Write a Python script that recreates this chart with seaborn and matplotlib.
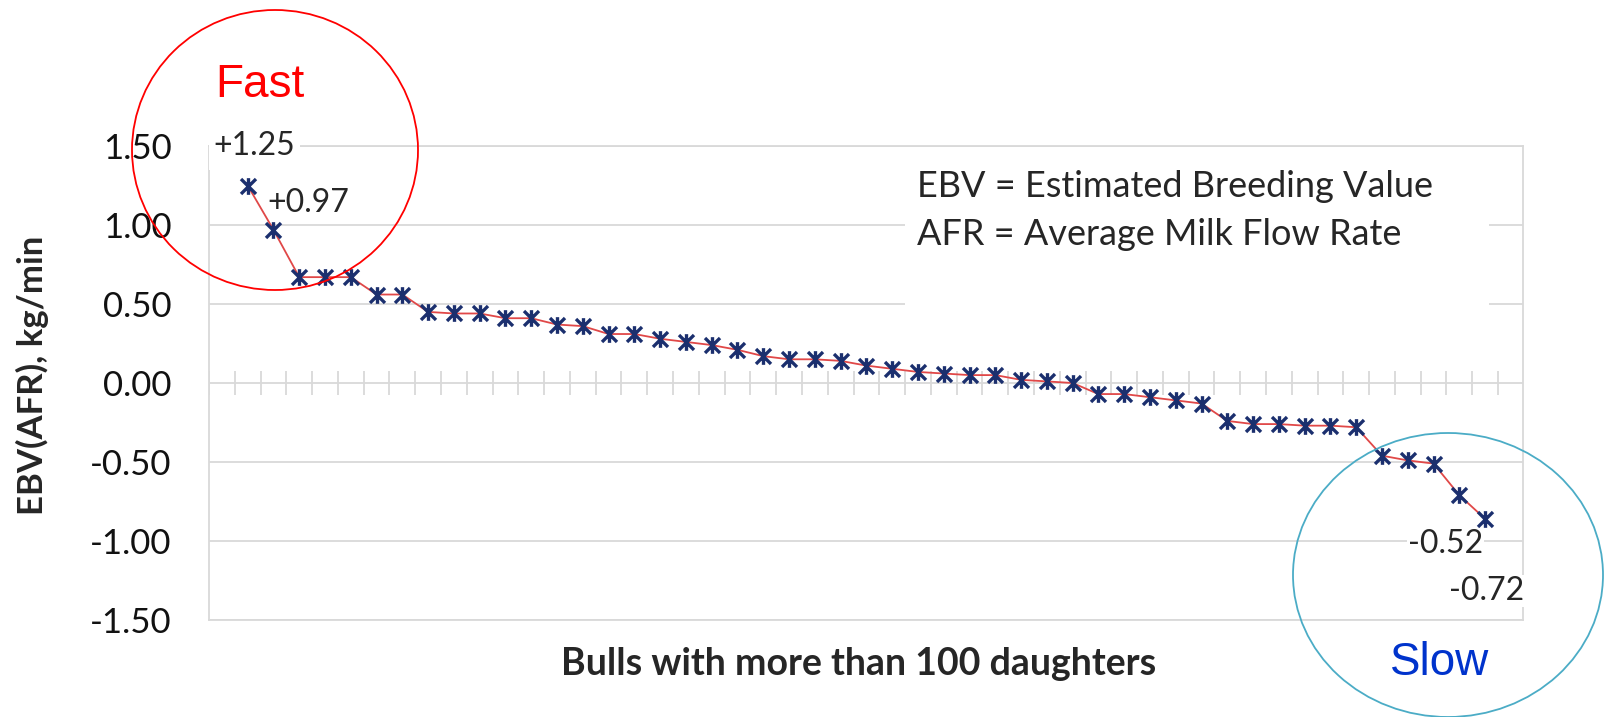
import matplotlib
matplotlib.use('Agg')
import matplotlib.pyplot as plt
from matplotlib.patches import Ellipse, Rectangle
from matplotlib.path import Path
import numpy as np
import pandas as pd
import seaborn as sns

# 値
ebv = [1.25, 0.97, 0.67, 0.67, 0.67, 0.56, 0.56, 0.45, 0.44, 0.44,
       0.41, 0.41, 0.37, 0.36, 0.31, 0.31, 0.28, 0.26, 0.24, 0.21,
       0.17, 0.15, 0.15, 0.14, 0.11, 0.09, 0.07, 0.06, 0.05, 0.05,
       0.02, 0.01, 0.00, -0.07, -0.07, -0.09, -0.11, -0.13, -0.24, -0.26,
       -0.26, -0.27, -0.27, -0.28, -0.46, -0.49, -0.51, -0.71, -0.86]
bull = list(range(1, len(ebv) + 1))
n_slots = 50
y_ticks = [-1.5, -1.0, -0.5, 0.0, 0.5, 1.0, 1.5]
y_tick_labels = ['-1.50', '-1.00', '-0.50', '0.00', '0.50', '1.00', '1.50']
fast_labels = ['+1.25', '+0.97']
slow_labels = ['-0.52', '-0.72']
legend_lines = ['EBV = Estimated Breeding Value', 'AFR = Average Milk Flow Rate']

df = pd.DataFrame({'bull': bull, 'ebv': ebv})

W, H = 1604, 717
def fx(x):
    return x / W
def fy(y):
    return 1 - y / H

sns.set_style('white')
plt.rcParams['font.family'] = ['Lato', 'DejaVu Sans']

fig = plt.figure(figsize=(W / 100, H / 100), dpi=100)
ax = fig.add_axes([fx(209), fy(620), (1523 - 209) / W, (620 - 146) / H])

grid_c = '#D9D9D9'

# Excel風のアスタリスクマーカー
star = Path([(0, -1), (0, 1), (-0.9, -0.9), (0.9, 0.9), (-0.9, 0.9), (0.9, -0.9)],
            [Path.MOVETO, Path.LINETO, Path.MOVETO, Path.LINETO, Path.MOVETO, Path.LINETO])

sns.lineplot(data=df, x='bull', y='ebv', color='#E04848', linewidth=1.3,
             marker=star, markersize=12, markerfacecolor='none',
             markeredgecolor='#1B2F6E', markeredgewidth=2.4, ax=ax, zorder=3)

ax.set_xlim(-0.5, -0.5 + (1523 - 209) / 25.78)
ax.set_ylim(-1.5, 1.5)
ax.set_xticks([])
ax.set_yticks(y_ticks)
ax.set_yticklabels(y_tick_labels)
ax.yaxis.grid(True, color=grid_c, linewidth=1.3)
ax.set_axisbelow(True)
ax.tick_params(axis='y', length=10, width=1.3, color=grid_c, pad=17,
               labelsize=25, labelcolor='#111111')
for s in ax.spines.values():
    s.set_color(grid_c)
    s.set_linewidth(1.3)
ax.set_xlabel('')
ax.set_ylabel('')

# 横軸の目盛り (0の線上)
ax.vlines(np.arange(n_slots + 1) - 0.5, -0.079, 0.079, color=grid_c, linewidth=1.3, zorder=1)

# 軸ラベル
fig.text(fx(32), fy(375), 'EBV(AFR), kg/min', rotation=90, ha='center', va='center',
         fontsize=25, fontweight='bold')
fig.text(fx(859), fy(664), 'Bulls with more than 100 daughters', ha='center', va='center',
         fontsize=27, fontweight='bold')

# 凡例テキストボックス
fig.add_artist(Rectangle((fx(905), fy(318)), (1489 - 905) / W, (318 - 160) / H,
                         facecolor='white', edgecolor='none', zorder=1.5))
fig.text(fx(917), fy(197), legend_lines[0], ha='left', va='baseline', fontsize=26, zorder=3)
fig.text(fx(917), fy(245), legend_lines[1], ha='left', va='baseline', fontsize=26, zorder=3)

# 数値ラベル
fig.add_artist(Rectangle((fx(209), fy(170)), (300 - 209) / W, (170 - 128) / H,
                         facecolor='white', edgecolor='none', zorder=1.5))
fig.text(fx(213), fy(155), fast_labels[0], ha='left', va='baseline', fontsize=23, zorder=3)
fig.text(fx(267), fy(212), fast_labels[1], ha='left', va='baseline', fontsize=23, zorder=3)
fig.text(fx(1408), fy(553), slow_labels[0], ha='left', va='baseline', fontsize=23, zorder=3,
         bbox=dict(facecolor='white', edgecolor='none', pad=1))
fig.text(fx(1449), fy(600), slow_labels[1], ha='left', va='baseline', fontsize=23, zorder=3,
         bbox=dict(facecolor='white', edgecolor='none', pad=0.5))

# 円
fig.add_artist(Ellipse((fx(275), fy(150)), 286 / W, 280 / H, facecolor='none',
                       edgecolor='#FF0000', linewidth=1.3, zorder=4))
fig.add_artist(Ellipse((fx(1448), fy(575)), 310 / W, 284 / H, facecolor='none',
                       edgecolor='#4BACC6', linewidth=1.3, zorder=4))
fig.text(fx(260), fy(97), 'Fast', ha='center', va='baseline', fontsize=33,
         color='#FF0000', family=['Liberation Sans', 'DejaVu Sans'], zorder=4)
fig.text(fx(1440), fy(675), 'Slow', ha='center', va='baseline', fontsize=33,
         color='#0033CC', family=['Liberation Sans', 'DejaVu Sans'], zorder=4)

fig.savefig('out.png', dpi=100, facecolor='white')
